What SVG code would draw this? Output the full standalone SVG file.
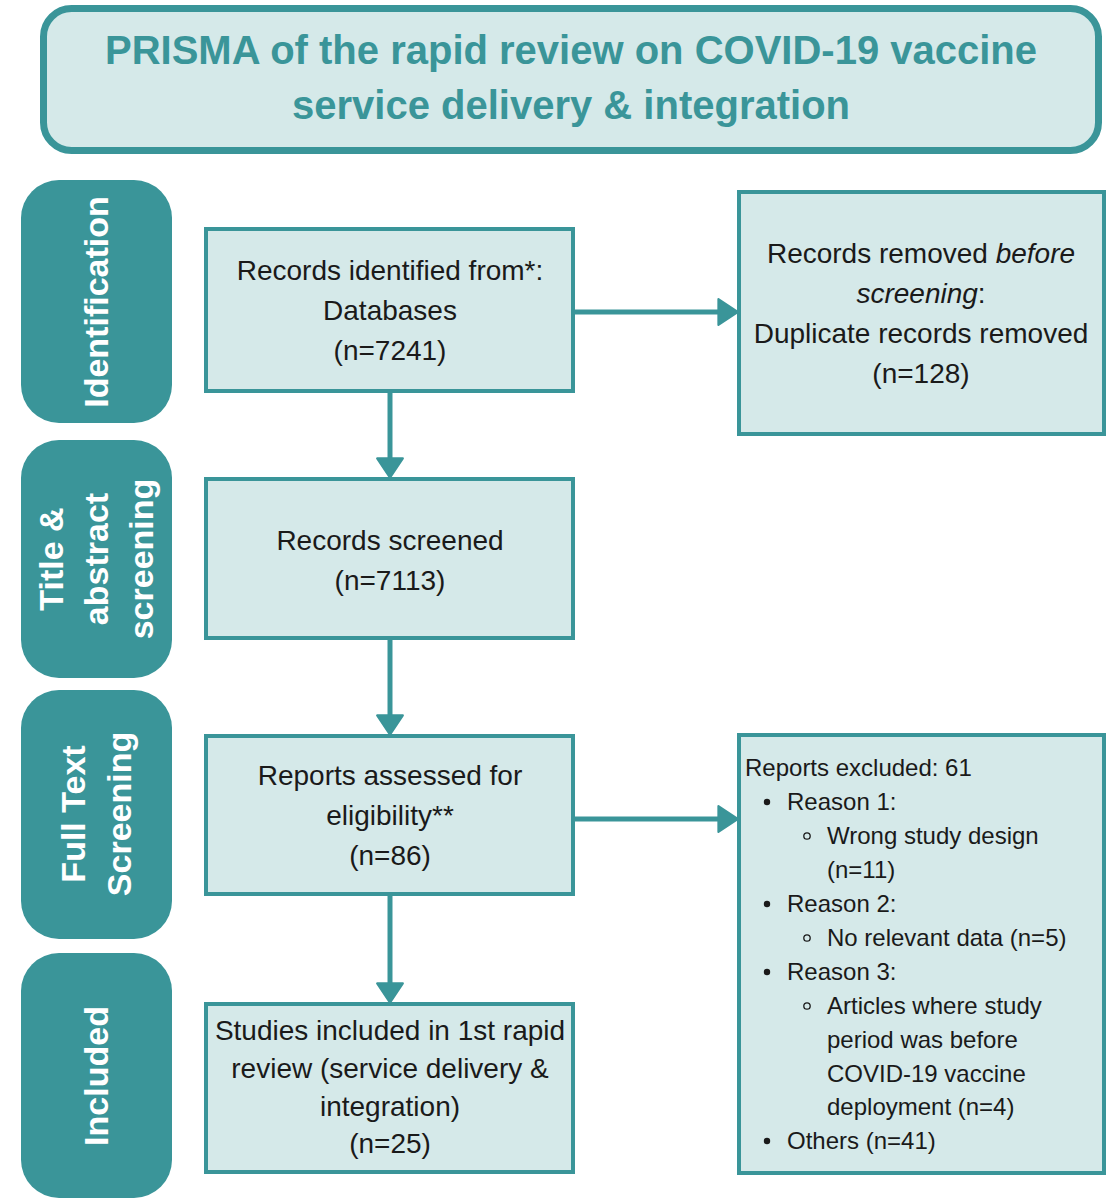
<svg xmlns="http://www.w3.org/2000/svg" width="1110" height="1198" viewBox="0 0 1110 1198">
<style>
.title{font-family:"Liberation Sans",Arial,sans-serif;font-weight:bold;font-size:40px;fill:#3A9599;text-anchor:middle}
.lab{fill:#3A9599}
.labt{font-family:"Liberation Sans",Arial,sans-serif;font-weight:bold;font-size:34px;fill:#ffffff;text-anchor:middle}
.box{fill:#D5E9E9;stroke:#3A9599;stroke-width:4}
.t{font-family:"Liberation Sans",Arial,sans-serif;font-size:28px;fill:#1a1a1a;text-anchor:middle}
.ts{font-family:"Liberation Sans",Arial,sans-serif;font-size:24px;fill:#1a1a1a}
.conn{stroke:#3A9599;stroke-width:5;fill:none}
</style>
<defs>
<marker id="ah" markerUnits="userSpaceOnUse" markerWidth="30" markerHeight="30" viewBox="-2 -2 24 28" refX="8" refY="12" orient="auto">
<path d="M0,0 L18,12 L0,24 z" fill="#3A9599" stroke="#3A9599" stroke-width="2" stroke-linejoin="round"/>
</marker>
</defs>

<g id="title">
<rect x="43.5" y="8.5" width="1055" height="142" rx="28" fill="#D5E9E9" stroke="#3A9599" stroke-width="7"/>
<text class="title" x="571" y="64">PRISMA of the rapid review on COVID-19 vaccine</text>
<text class="title" x="571" y="119">service delivery &amp; integration</text>
</g>

<g id="label-identification">
<rect class="lab" x="21" y="180" width="151" height="243" rx="38"/>
<text class="labt" transform="translate(108,302) rotate(-90)" x="0" y="0">Identification</text>
</g>
<g id="label-title-abstract">
<rect class="lab" x="21" y="440" width="151" height="238" rx="38"/>
<text class="labt" transform="translate(63,559) rotate(-90)" x="0" y="0">Title &amp;</text>
<text class="labt" transform="translate(108,559) rotate(-90)" x="0" y="0">abstract</text>
<text class="labt" transform="translate(153,559) rotate(-90)" x="0" y="0">screening</text>
</g>
<g id="label-fulltext">
<rect class="lab" x="21" y="690" width="151" height="249" rx="38"/>
<text class="labt" transform="translate(85,814) rotate(-90)" x="0" y="0">Full Text</text>
<text class="labt" transform="translate(131,814) rotate(-90)" x="0" y="0">Screening</text>
</g>
<g id="label-included">
<rect class="lab" x="21" y="953" width="151" height="245" rx="38"/>
<text class="labt" transform="translate(108,1076) rotate(-90)" x="0" y="0">Included</text>
</g>

<g id="connectors">
<line class="conn" x1="575" y1="312" x2="727" y2="312" marker-end="url(#ah)"/>
<line class="conn" x1="390" y1="393" x2="390" y2="467" marker-end="url(#ah)"/>
<line class="conn" x1="390" y1="640" x2="390" y2="724" marker-end="url(#ah)"/>
<line class="conn" x1="390" y1="896" x2="390" y2="992" marker-end="url(#ah)"/>
<line class="conn" x1="575" y1="819" x2="727" y2="819" marker-end="url(#ah)"/>
</g>

<g id="records-identified">
<rect class="box" x="206" y="229" width="367" height="162"/>
<text class="t" x="390" y="280">Records identified from*:</text>
<text class="t" x="390" y="320">Databases</text>
<text class="t" x="390" y="360">(n=7241)</text>
</g>

<g id="records-removed">
<rect class="box" x="739" y="192" width="365" height="242"/>
<text class="t" x="921" y="263">Records removed <tspan font-style="italic">before</tspan></text>
<text class="t" x="921" y="303"><tspan font-style="italic">screening</tspan>:</text>
<text class="t" x="921" y="343">Duplicate records removed</text>
<text class="t" x="921" y="383">(n=128)</text>
</g>

<g id="records-screened">
<rect class="box" x="206" y="479" width="367" height="159"/>
<text class="t" x="390" y="550">Records screened</text>
<text class="t" x="390" y="590">(n=7113)</text>
</g>

<g id="reports-assessed">
<rect class="box" x="206" y="736" width="367" height="158"/>
<text class="t" x="390" y="785">Reports assessed for</text>
<text class="t" x="390" y="825">eligibility**</text>
<text class="t" x="390" y="865">(n=86)</text>
</g>

<g id="studies-included">
<rect class="box" x="206" y="1004" width="367" height="168"/>
<text class="t" x="390" y="1040">Studies included in 1st rapid</text>
<text class="t" x="390" y="1078">review (service delivery &amp;</text>
<text class="t" x="390" y="1116">integration)</text>
<text class="t" x="390" y="1153">(n=25)</text>
</g>

<g id="reports-excluded">
<rect class="box" x="739" y="735" width="365" height="438"/>
<text class="ts" x="745" y="776">Reports excluded: 61</text>
<circle cx="767" cy="802" r="3.2" fill="#1a1a1a"/>
<text class="ts" x="787" y="810">Reason 1:</text>
<circle cx="807" cy="836" r="3.2" fill="none" stroke="#1a1a1a" stroke-width="1.3"/>
<text class="ts" x="827" y="844">Wrong study design</text>
<text class="ts" x="827" y="878">(n=11)</text>
<circle cx="767" cy="904" r="3.2" fill="#1a1a1a"/>
<text class="ts" x="787" y="912">Reason 2:</text>
<circle cx="807" cy="938" r="3.2" fill="none" stroke="#1a1a1a" stroke-width="1.3"/>
<text class="ts" x="827" y="946">No relevant data (n=5)</text>
<circle cx="767" cy="972" r="3.2" fill="#1a1a1a"/>
<text class="ts" x="787" y="980">Reason 3:</text>
<circle cx="807" cy="1006" r="3.2" fill="none" stroke="#1a1a1a" stroke-width="1.3"/>
<text class="ts" x="827" y="1014">Articles where study</text>
<text class="ts" x="827" y="1048">period was before</text>
<text class="ts" x="827" y="1082">COVID-19 vaccine</text>
<text class="ts" x="827" y="1115">deployment (n=4)</text>
<circle cx="767" cy="1141" r="3.2" fill="#1a1a1a"/>
<text class="ts" x="787" y="1149">Others (n=41)</text>
</g>
</svg>
